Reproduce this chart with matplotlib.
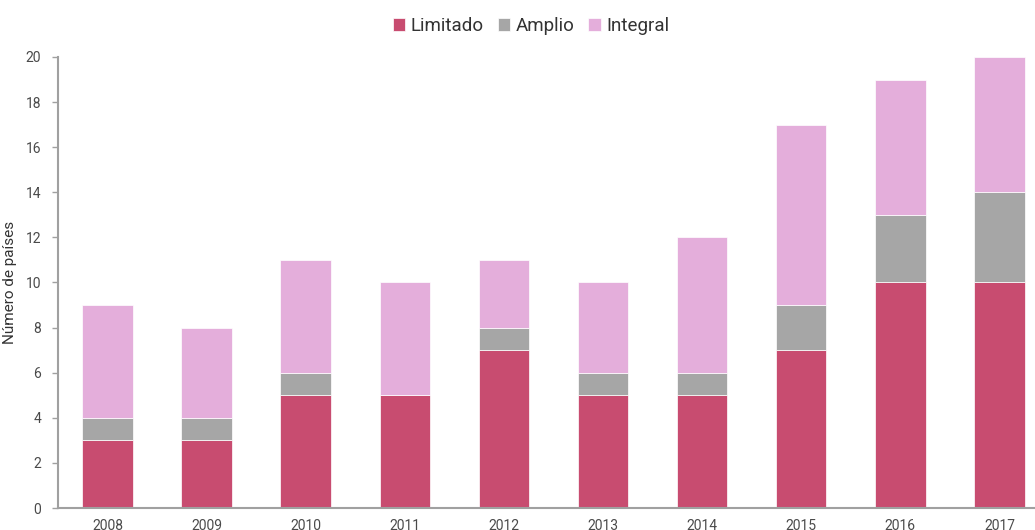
import matplotlib
matplotlib.use("Agg")
import matplotlib.pyplot as plt
import numpy as np

plt.rcParams['font.family'] = ['Roboto', 'DejaVu Sans']

years = ['2008', '2009', '2010', '2011', '2012', '2013', '2014', '2015', '2016', '2017']
limitado = [3, 3, 5, 5, 7, 5, 5, 7, 10, 10]
amplio = [1, 1, 1, 0, 1, 1, 1, 2, 3, 4]
integral = [5, 4, 5, 5, 3, 4, 6, 8, 6, 6]

colors = ['#C84C70', '#A6A6A6', '#E4AEDB']
labels = ['Limitado', 'Amplio', 'Integral']

fig = plt.figure(figsize=(10.35, 5.3), dpi=100)
ax = fig.add_axes([0.056, 0.0415, 0.9575, 0.851])

x = np.arange(len(years))
w = 0.51
bottom = np.zeros(len(years))
for vals, c, lab in zip([limitado, amplio, integral], colors, labels):
    ax.bar(x, vals, w, bottom=bottom, color=c, label=lab, edgecolor='white', linewidth=0.5, zorder=2)
    bottom += np.array(vals)

ax.set_xlim(-0.5, 9.5)
ax.set_ylim(0, 20)
ax.set_yticks(range(0, 21, 2))
ax.set_xticks(x)
ax.set_xticklabels(years)
ax.tick_params(axis='y', colors='#A0A0A0', labelcolor='#4A4A4A', labelsize=10, length=4, width=1, pad=8)
ax.tick_params(axis='x', length=0, labelcolor='#4A4A4A', labelsize=10, pad=8)
for s in ['top', 'right']:
    ax.spines[s].set_visible(False)
for s in ['left', 'bottom']:
    ax.spines[s].set_color('#A0A0A0')
    ax.spines[s].set_linewidth(1.5)
ax.set_ylabel('Número de países', fontsize=11, color='#333333', labelpad=6)

fig.legend(loc='upper center', bbox_to_anchor=(0.513, 1.0), ncol=3, frameon=False,
           fontsize=13.5, handlelength=0.65, handleheight=0.65, handletextpad=0.3,
           columnspacing=0.75, labelcolor='#333333')

fig.savefig('out.png', dpi=100)
